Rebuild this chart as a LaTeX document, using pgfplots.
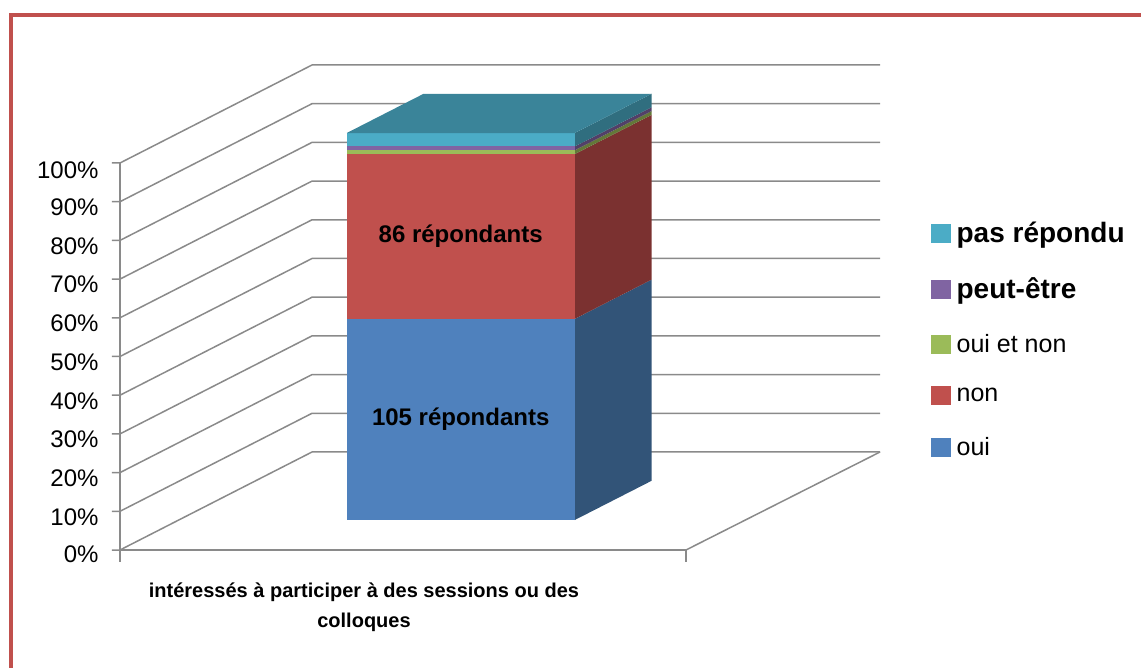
\documentclass[border=0pt]{standalone}
\usepackage{fontspec}
\setmainfont{Liberation Sans}
\usepackage{pgfplots}
\pgfplotsset{compat=1.18}
\definecolor{cOui}{HTML}{4F81BD}
\definecolor{cOuiS}{HTML}{325478}
\definecolor{cNon}{HTML}{C0504D}
\definecolor{cNonS}{HTML}{7B3130}
\definecolor{cOn}{HTML}{9BBB59}
\definecolor{cOnS}{HTML}{637839}
\definecolor{cPe}{HTML}{8064A2}
\definecolor{cPeS}{HTML}{524068}
\definecolor{cPas}{HTML}{4BACC6}
\definecolor{cPasS}{HTML}{306E7F}
\definecolor{cPasT}{HTML}{3A8499}
\definecolor{cGrid}{HTML}{8A8A8A}
\definecolor{cFrame}{HTML}{C0504D}
\begin{document}
\begin{tikzpicture}
\begin{axis}[
  x={(1pt,0pt)}, y={(192pt,98pt)}, z={(0pt,3.87pt)},
  xmin=120, xmax=686, ymin=0, ymax=1, zmin=0, zmax=100,
  axis lines=left, axis line style={draw=none,-},
  xtick=\empty, ytick=\empty, ztick={0,10,...,100},
  major tick length=0pt,
  zticklabel={\pgfmathprintnumber{\tick}\%},
  /pgf/number format/assume math mode=true,
  ticklabel style={font=\fontsize{24}{25}\selectfont},
  zticklabel style={xshift=-18pt, yshift=1pt},
  clip=false,
  legend style={draw=none, fill=none, at={(axis description cs:1.066,0.685)},
    anchor=north west, row sep=30pt, column sep=4pt, font=\fontsize{25}{26}\selectfont},
  legend cell align=left,
]
% frame and bounding box
\draw[line width=4.5pt, cFrame] (axis cs:11,0,138.24) rectangle (axis cs:1170,0,-40);
\coordinate (bbTL) at (axis cs:0,0,142.12);
\coordinate (bbBR) at (axis cs:1141,0,-30.49);
% walls and grid
\pgfplotsinvokeforeach{0,10,...,100}{
  \addplot3[cGrid, line width=1.5pt, forget plot] coordinates {(112,0,#1) (120,0,#1) (120,1,#1) (688,1,#1)};
}
\addplot3[cGrid, line width=1.5pt, forget plot] coordinates {(120,0,-3.1) (120,0,0) (686,0,0) (686,0,-3.1)};
\addplot3[cGrid, line width=1.5pt, forget plot] coordinates {(686,0,0) (688,1,0)};
\addplot3[cGrid, line width=1.5pt, forget plot] coordinates {(120,0,0) (120,0,100)};
% side faces
\addplot3[fill=cOuiS, draw=none, forget plot] coordinates {(516,0.306,0) (516,0.706,0) (516,0.706,51.98) (516,0.306,51.98)};
\addplot3[fill=cNonS, draw=none, forget plot] coordinates {(516,0.306,51.98) (516,0.706,51.98) (516,0.706,94.55) (516,0.306,94.55)};
\addplot3[fill=cOnS, draw=none, forget plot] coordinates {(516,0.306,94.55) (516,0.706,94.55) (516,0.706,95.54) (516,0.306,95.54)};
\addplot3[fill=cPeS, draw=none, forget plot] coordinates {(516,0.306,95.54) (516,0.706,95.54) (516,0.706,96.53) (516,0.306,96.53)};
\addplot3[fill=cPasS, draw=none, forget plot] coordinates {(516,0.306,96.53) (516,0.706,96.53) (516,0.706,100) (516,0.306,100)};
% front faces
\addplot3[fill=cOui, draw=none, forget plot] coordinates {(288,0.306,0) (516,0.306,0) (516,0.306,51.98) (288,0.306,51.98)};
\addplot3[fill=cNon, draw=none, forget plot] coordinates {(288,0.306,51.98) (516,0.306,51.98) (516,0.306,94.55) (288,0.306,94.55)};
\addplot3[fill=cOn, draw=none, forget plot] coordinates {(288,0.306,94.55) (516,0.306,94.55) (516,0.306,95.54) (288,0.306,95.54)};
\addplot3[fill=cPe, draw=none, forget plot] coordinates {(288,0.306,95.54) (516,0.306,95.54) (516,0.306,96.53) (288,0.306,96.53)};
\addplot3[fill=cPas, draw=none, forget plot] coordinates {(288,0.306,96.53) (516,0.306,96.53) (516,0.306,100) (288,0.306,100)};
% top face
\addplot3[fill=cPasT, draw=none, forget plot] coordinates {(288,0.306,100) (516,0.306,100) (516,0.706,100) (288,0.706,100)};
% labels
\node[font=\bfseries\fontsize{24}{26}\selectfont] at (axis cs:402,0.306,73.27) {86 répondants};
\node[font=\bfseries\fontsize{24}{26}\selectfont] at (axis cs:402,0.306,25.99) {105 répondants};
\node[font=\bfseries\fontsize{20}{30}\selectfont, align=center, anchor=north] at (axis cs:364,0,-7.5)
  {intéressés à participer à des sessions ou des\\colloques};
% legend
\addlegendimage{legend image code/.code={\fill[cPas] (0pt,-9pt) rectangle (19pt,9pt);}}
\addlegendentry{\fontsize{28}{30}\selectfont\bfseries pas répondu}
\addlegendimage{legend image code/.code={\fill[cPe] (0pt,-9pt) rectangle (19pt,9pt);}}
\addlegendentry{\fontsize{28}{30}\selectfont\bfseries peut-être}
\addlegendimage{legend image code/.code={\fill[cOn] (0pt,-9pt) rectangle (19pt,9pt);}}
\addlegendentry{oui et non}
\addlegendimage{legend image code/.code={\fill[cNon] (0pt,-9pt) rectangle (19pt,9pt);}}
\addlegendentry{non}
\addlegendimage{legend image code/.code={\fill[cOui] (0pt,-9pt) rectangle (19pt,9pt);}}
\addlegendentry{oui}
\end{axis}
\pgfresetboundingbox
\useasboundingbox (bbTL) rectangle (bbBR);
\end{tikzpicture}
\end{document}
